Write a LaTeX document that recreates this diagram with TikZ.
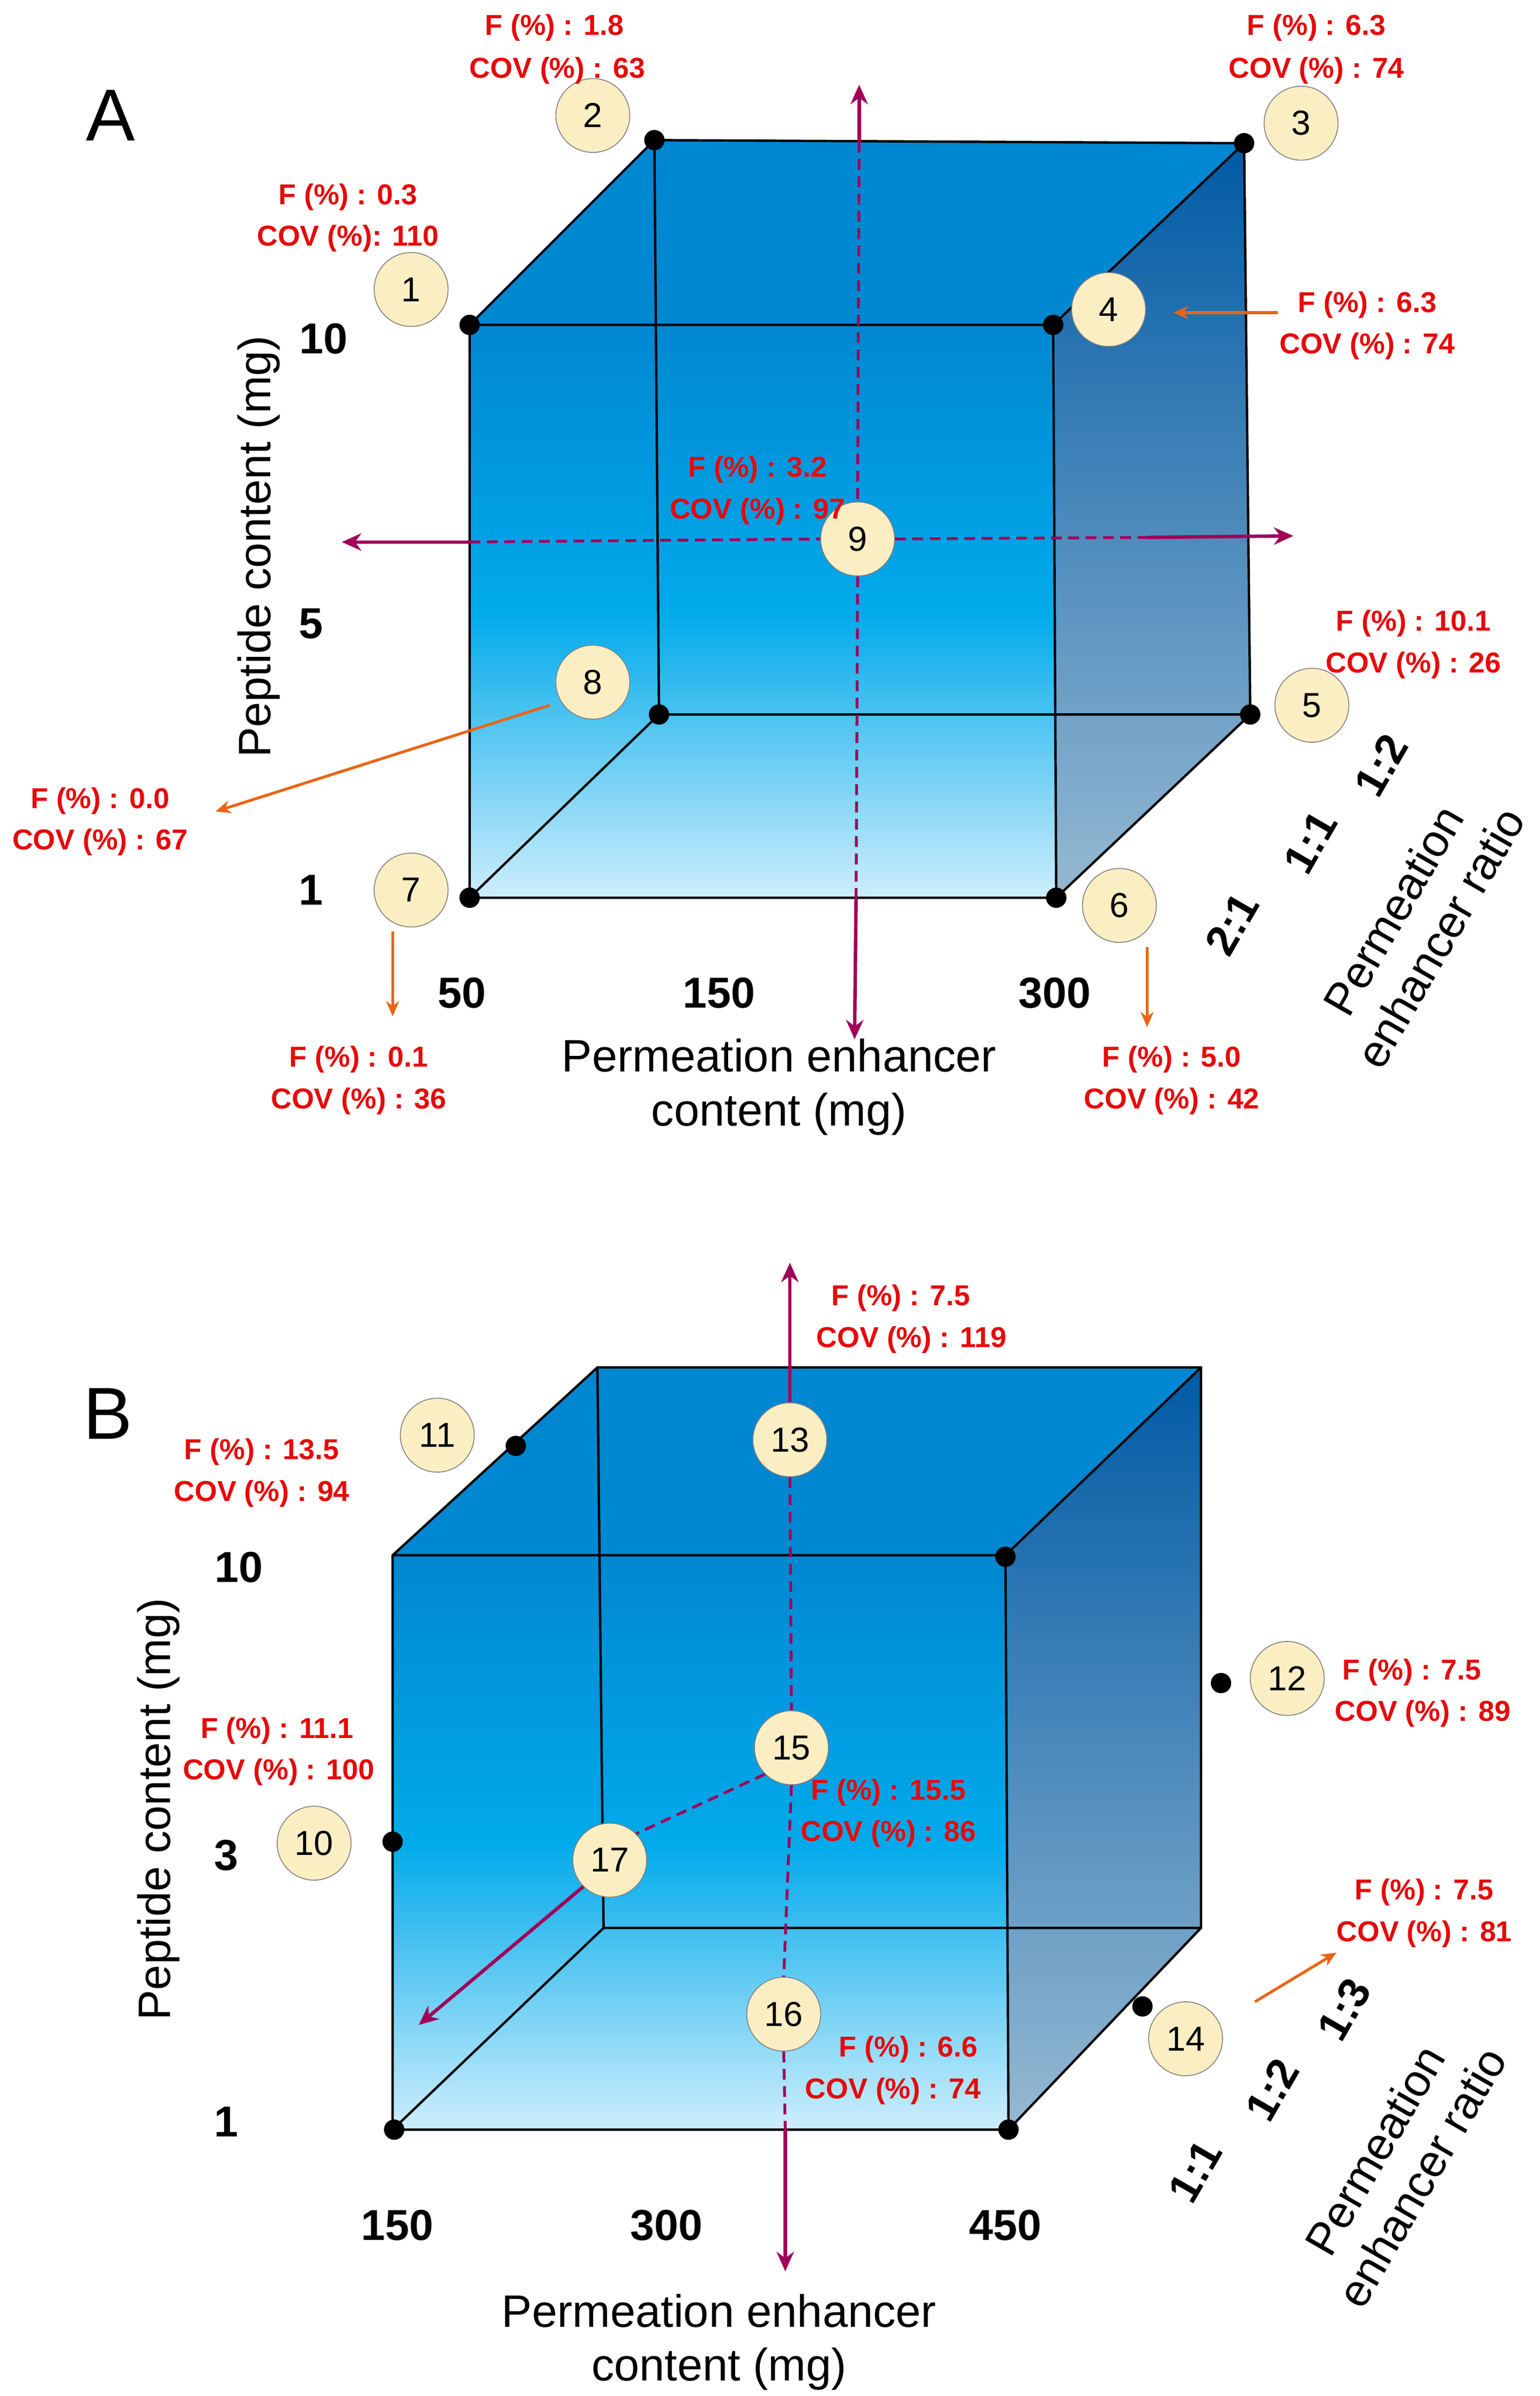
\documentclass[tikz,border=0pt]{standalone}
\usepackage{fontspec}
\setmainfont{Liberation Sans}
\usetikzlibrary{arrows.meta}
\definecolor{redt}{RGB}{230,10,10}
\definecolor{magl}{RGB}{160,0,90}
\definecolor{orl}{RGB}{235,100,20}
\definecolor{beige}{RGB}{252,238,195}
\definecolor{ftop}{RGB}{0,135,210}
\definecolor{fbot}{RGB}{205,238,252}
\definecolor{fmid}{RGB}{0,170,235}
\definecolor{rtop}{RGB}{0,90,165}
\definecolor{rbot}{RGB}{150,185,210}
\tikzset{
 lab/.style={text=redt,font=\fontsize{13.3}{14}\selectfont\bfseries,inner sep=0pt},
 num/.style={circle,draw=gray,fill=beige,minimum size=1.2cm,inner sep=0pt,font=\fontsize{16}{16}\selectfont},
 dot/.style={circle,fill=black,minimum size=0.33cm,inner sep=0pt},
 axn/.style={font=\fontsize{20}{20}\selectfont\bfseries,inner sep=0pt},
 axt/.style={font=\fontsize{21}{25}\selectfont,align=center,inner sep=0pt},
 mag/.style={draw=magl,line width=1.6pt},
 magd/.style={draw=magl,line width=1.3pt,dash pattern=on 5pt off 3pt},
 ora/.style={draw=orl,line width=1.3pt,-{Stealth[length=7pt,width=6pt]}},
 edge/.style={draw=black,line width=1.1pt},
 big/.style={font=\fontsize{34}{34}\selectfont,inner sep=0pt}
}
\begin{document}
\begin{tikzpicture}[x=0.025cm,y=-0.025cm]
\useasboundingbox (0,0) rectangle (1000,1556);
% ===== Cube A =====
\fill[top color=rtop,bottom color=rbot] (684,211)--(808,93)--(812,464)--(686,583)--cycle;
\fill[ftop] (305,211)--(425,91)--(808,93)--(684,211)--cycle;
\fill[top color=ftop,bottom color=fbot,middle color=fmid] (305,211) rectangle (686,583);
\draw[edge] (305,211)--(425,91)--(808,93)--(812,464)--(686,583)--(305,583)--cycle;
\draw[edge] (305,211)--(684,211)--(686,583) (684,211)--(808,93);
\draw[edge] (425,91)--(428,464)--(812,464) (428,464)--(305,583);
\foreach \p/\n in {{305,211}/a1,{425,91}/a2,{808,93}/a3,{684,211}/a4,{428,464}/a8,{812,464}/a5,{305,583}/a7,{686,583}/a6}
 \node[dot] (d\n) at (\p) {};
\coordinate (vt) at (558,55); \coordinate (vb) at (555,675);
\coordinate (hl) at (222,352); \coordinate (hr) at (840,348);
\node[num] (n9) at (557,350) {9};
\draw[mag,-{Stealth[length=9pt,width=8pt]}] (558,92)--(vt);
\draw[magd] (558,92)--(n9.north);
\draw[magd] (n9.south)--(556,583);
\draw[mag,-{Stealth[length=9pt,width=8pt]}] (556,583)--(vb);
\draw[mag,-{Stealth[length=9pt,width=8pt]}] (305,352)--(hl);
\draw[magd] (305,352)--(n9.west);
\draw[magd] (n9.east)--(745,349);
\draw[mag,-{Stealth[length=9pt,width=8pt]}] (745,349)--(hr);
\node[num] (n1) at (267,188) {1};
\node[num] (n2) at (385,75) {2};
\node[num] (n3) at (845,80) {3};
\node[num] (n4) at (720,201) {4};
\node[num] (n5) at (852,458) {5};
\node[num] (n6) at (727,588) {6};
\node[num] (n7) at (267,578) {7};
\node[num] (n8) at (385,443) {8};
\node[lab] at (360,18) {F (\%) : 1.8};
\node[lab] at (362,46) {COV (\%) : 63};
\node[lab] at (855,18) {F (\%) : 6.3};
\node[lab] at (855,46) {COV (\%) : 74};
\node[lab] at (226,128) {F (\%) : 0.3};
\node[lab] at (226,155) {COV (\%): 110};
\node[lab] (l4) at (888,198) {F (\%) : 6.3};
\node[lab] at (888,225) {COV (\%) : 74};
\node[lab] at (492,305) {F (\%) : 3.2};
\node[lab] at (492,332) {COV (\%) : 97};
\node[lab] at (918,405) {F (\%) : 10.1};
\node[lab] at (918,432) {COV (\%) : 26};
\node[lab] at (65,520) {F (\%) : 0.0};
\node[lab] at (65,547) {COV (\%) : 67};
\node[lab] at (233,688) {F (\%) : 0.1};
\node[lab] at (233,715) {COV (\%) : 36};
\node[lab] at (761,688) {F (\%) : 5.0};
\node[lab] at (761,715) {COV (\%) : 42};
\coordinate (e4) at (762,203); \coordinate (e8) at (140,527);
\coordinate (e7) at (255,660); \coordinate (e6) at (745,667);
\draw[ora] (830,203)--(e4);
\draw[ora] (357,458)--(e8);
\draw[ora] (255,605)--(e7);
\draw[ora] (745,615)--(e6);
\node[big] at (72,75) {A};
\node[axn] at (210,220) {10};
\node[axn] at (202,405) {5};
\node[axn] at (202,578) {1};
\node[axn] at (300,645) {50};
\node[axn] at (467,645) {150};
\node[axn] at (685,645) {300};
\node[axt,rotate=90] at (168,355) {Peptide content (mg)};
\node[axt] at (506,706) {Permeation enhancer\\content (mg)};
\node[axn,rotate=60] at (897,497) {1:2};
\node[axn,rotate=60] at (851,547) {1:1};
\node[axn,rotate=60] at (800,600) {2:1};
\node[axt,rotate=60] at (920,600) {Permeation\\enhancer ratio};
% ===== Cube B =====
\fill[top color=rtop,bottom color=rbot] (653,1010)--(780,888)--(780,1252)--(655,1383)--cycle;
\fill[ftop] (255,1010)--(388,888)--(780,888)--(653,1010)--cycle;
\fill[top color=ftop,bottom color=fbot,middle color=fmid] (255,1010) rectangle (655,1383);
\draw[edge] (255,1010)--(388,888)--(780,888)--(780,1252)--(655,1383)--(255,1383)--cycle;
\draw[edge] (255,1010)--(653,1010)--(655,1383) (653,1010)--(780,888);
\draw[edge] (388,888)--(392,1252)--(780,1252) (392,1252)--(255,1383);
\foreach \p/\n in {{335,939}/b11,{653,1011}/b0,{793,1093}/b12,{255,1196}/b10,{742,1303}/b14,{256,1383}/b1,{655,1383}/b2}
 \node[dot] (d\n) at (\p) {};
\node[num] (n13) at (513,935) {13};
\node[num] (n15) at (514,1135) {15};
\node[num] (n16) at (509,1308) {16};
\node[num] (n17) at (396,1208) {17};
\coordinate (bt) at (513,820); \coordinate (bb) at (510,1475); \coordinate (bd) at (272,1315);
\draw[mag,-{Stealth[length=9pt,width=8pt]}] (n13.north)--(bt);
\draw[magd] (n13.south)--(n15.north);
\draw[magd] (n15.south)--(n16.north);
\draw[magd] (n16.south)--(510,1383);
\draw[mag,-{Stealth[length=9pt,width=8pt]}] (510,1383)--(bb);
\draw[magd] (n15.south west)--(n17.north east);
\draw[mag,-{Stealth[length=9pt,width=8pt]}] (n17.south west)--(bd);
\node[num] (n11) at (284,932) {11};
\node[num] (n12) at (836,1090) {12};
\node[num] (n10) at (204,1197) {10};
\node[num] (n14) at (770,1324) {14};
\node[lab] at (170,943) {F (\%) : 13.5};
\node[lab] at (170,970) {COV (\%) : 94};
\node[lab] at (585,843) {F (\%) : 7.5};
\node[lab] at (592,870) {COV (\%) : 119};
\node[lab] at (917,1086) {F (\%) : 7.5};
\node[lab] at (924,1113) {COV (\%) : 89};
\node[lab] at (577,1164) {F (\%) : 15.5};
\node[lab] at (577,1191) {COV (\%) : 86};
\node[lab] at (180,1124) {F (\%) : 11.1};
\node[lab] at (181,1151) {COV (\%) : 100};
\node[lab] at (590,1331) {F (\%) : 6.6};
\node[lab] at (580,1358) {COV (\%) : 74};
\node[lab] at (925,1229) {F (\%) : 7.5};
\node[lab] at (925,1256) {COV (\%) : 81};
\coordinate (e14) at (868,1268);
\draw[ora] (815,1300)--(e14);
\node[big] at (70,918) {B};
\node[axn] at (155,1018) {10};
\node[axn] at (147,1205) {3};
\node[axn] at (147,1378) {1};
\node[axn] at (258,1445) {150};
\node[axn] at (433,1445) {300};
\node[axn] at (653,1445) {450};
\node[axt,rotate=90] at (103,1175) {Peptide content (mg)};
\node[axt] at (467,1521) {Permeation enhancer\\content (mg)};
\node[axn,rotate=60] at (873,1305) {1:3};
\node[axn,rotate=60] at (826,1357) {1:2};
\node[axn,rotate=60] at (776,1410) {1:1};
\node[axt,rotate=60] at (908,1405) {Permeation\\enhancer ratio};
\end{tikzpicture}
\end{document}
